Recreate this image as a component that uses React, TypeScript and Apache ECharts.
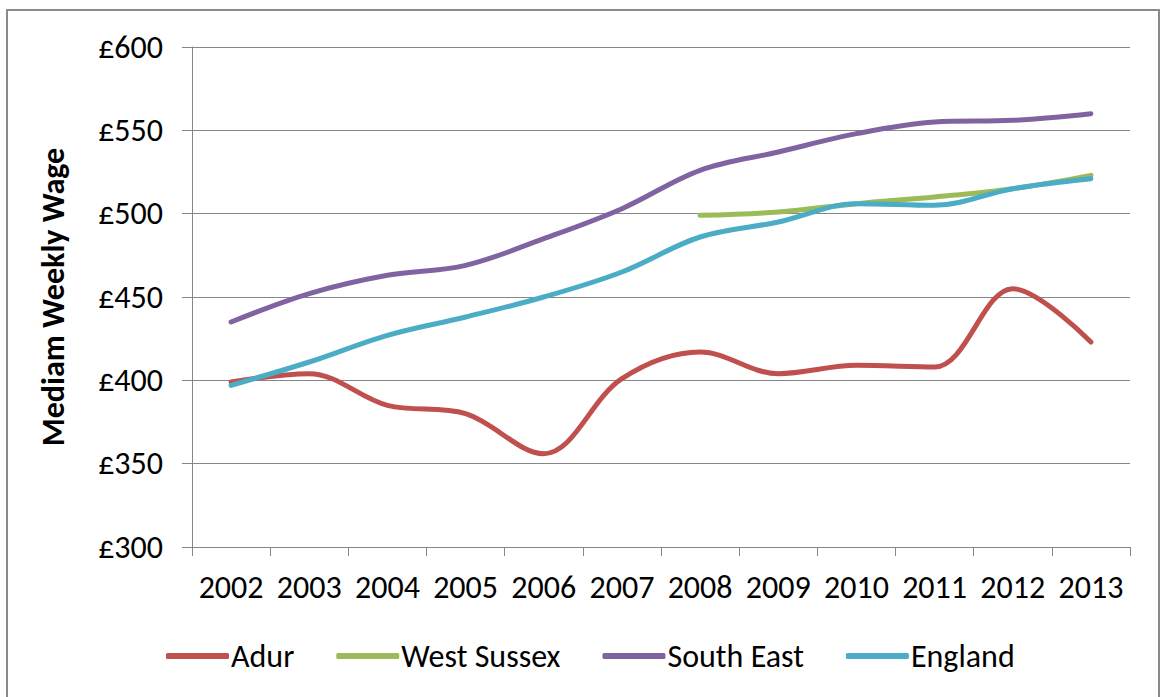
import React, { useEffect, useRef } from "react";
import * as echarts from "echarts";

const years = ["2002", "2003", "2004", "2005", "2006", "2007", "2008", "2009", "2010", "2011", "2012", "2013"];
const adur = [399, 404, 385, 380, 356, 401, 417, 404, 409, 408, 455, 423];
const westSussex = [null, null, null, null, null, null, 499, 501, 506, 510, 515, 523];
const southEast = [435, 452, 463, 469, 485, 503, 526, 537, 548, 555, 556, 560];
const england = [397, 411, 427, 438, 450, 465, 486, 495, 506, 505, 515, 521];
const yTicks = [300, 350, 400, 450, 500, 550, 600];

const FONT = "Carlito, Lato, 'Open Sans', sans-serif";

export default function App() {
  const ref = useRef<HTMLDivElement>(null);
  useEffect(() => {
    document.body.style.margin = "0";
    const chart = echarts.init(ref.current!, null, { renderer: "svg" });
    const mk = (name: string, data: any[], color: string) => ({
      name,
      type: "line",
      data,
      smooth: 0.35,
      symbol: "none",
      lineStyle: { color, width: 5, cap: "round" },
      itemStyle: { color },
    });
    chart.setOption({
      animation: false,
      backgroundColor: "#ffffff",
      textStyle: { fontFamily: FONT },
      graphic: [
        {
          type: "rect",
          shape: { x: 7, y: 10, width: 1152, height: 700 },
          style: { fill: "none", stroke: "#8a8a8a", lineWidth: 2 },
          silent: true,
        },
      ],
      grid: { left: 192, right: 34, top: 47, bottom: 150 },
      legend: {
        left: 161,
        top: 635,
        icon: "roundRect",
        itemWidth: 63,
        itemHeight: 6,
        itemGap: 42,
        textStyle: { fontFamily: FONT, fontSize: 32, color: "#000", padding: [0, 0, 0, -3] },
        data: ["Adur", "West Sussex", "South East", "England"],
      },
      xAxis: {
        type: "category",
        data: years,
        boundaryGap: true,
        axisLine: { lineStyle: { color: "#878787", width: 1 } },
        axisTick: { show: true, interval: 0, length: 9, lineStyle: { color: "#878787" } },
        axisLabel: { interval: 0, fontFamily: FONT, fontSize: 32, color: "#000", margin: 24 },
      },
      yAxis: {
        type: "value",
        min: 300,
        max: 600,
        interval: 50,
        name: "Mediam Weekly Wage",
        nameLocation: "middle",
        nameRotate: 90,
        nameGap: 123,
        nameTextStyle: { fontFamily: FONT, fontSize: 32, fontWeight: "bold", color: "#000" },
        axisLine: { show: true, lineStyle: { color: "#878787", width: 1 } },
        axisTick: { show: true, length: 10, lineStyle: { color: "#878787" } },
        splitLine: { lineStyle: { color: "#878787", width: 1 } },
        axisLabel: {
          fontFamily: FONT,
          fontSize: 32,
          color: "#000",
          margin: 29,
          formatter: (v: number) => (yTicks.includes(v) ? "£" + v : ""),
        },
      },
      series: [
        mk("Adur", adur, "#C0504D"),
        mk("West Sussex", westSussex, "#9BBB59"),
        mk("South East", southEast, "#8064A2"),
        mk("England", england, "#4BACC6"),
      ],
    });
    return () => chart.dispose();
  }, []);
  return <div ref={ref} style={{ width: 1164, height: 697 }} />;
}
